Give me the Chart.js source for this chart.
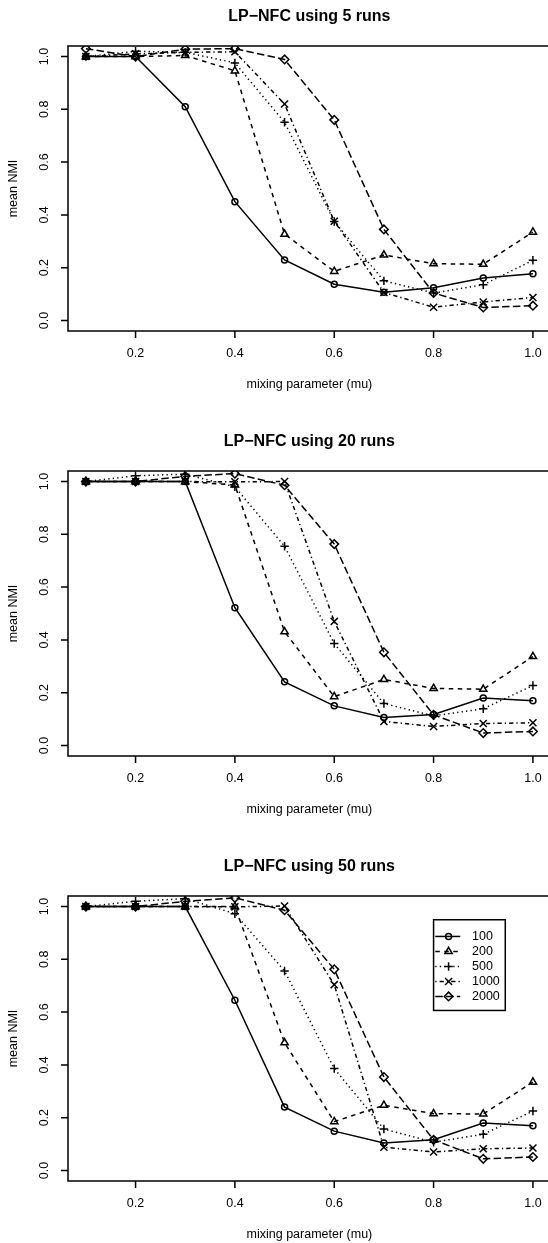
<!DOCTYPE html>
<html lang="en">
<head>
<meta charset="UTF-8" />
<title>LP-NFC mean NMI</title>
<script src="https://cdn.jsdelivr.net/npm/chart.js"></script>
<style>
  html, body {
    margin: 0;
    padding: 0;
    background: #fff;
    overflow: hidden;
  }
  body {
    width: 548px;
    height: 1243px;
    position: relative;
  }
  .panel {
    position: absolute;
    left: 0;
  }
</style>
</head>
<body>
<canvas id="chart5" class="panel" width="619" height="425" style="top:-14px"></canvas>
<canvas id="chart20" class="panel" width="619" height="425" style="top:411px"></canvas>
<canvas id="chart50" class="panel" width="619" height="425" style="top:836px"></canvas>

<script>
  // mixing parameter values and network sizes
  const mu = [0.1, 0.2, 0.3, 0.4, 0.5, 0.6, 0.7, 0.8, 0.9, 1.0];
  const sizes = ['100', '200', '500', '1000', '2000'];
  const xTicks = [0.2, 0.4, 0.6, 0.8, 1.0];
  const yTicks = [0.0, 0.2, 0.4, 0.6, 0.8, 1.0];
  const panelTitles = ['LP\u2212NFC using 5 runs', 'LP\u2212NFC using 20 runs', 'LP\u2212NFC using 50 runs'];

  // 5 runs
  const runs5_100  = [1.00, 1.00, 0.81, 0.45, 0.229, 0.137, 0.107, 0.124, 0.161, 0.177];
  const runs5_200  = [1.00, 1.00, 1.004, 0.946, 0.327, 0.186, 0.248, 0.215, 0.213, 0.335];
  const runs5_500  = [1.00, 1.02, 1.016, 0.976, 0.751, 0.375, 0.150, 0.104, 0.135, 0.228];
  const runs5_1000 = [1.00, 1.01, 1.016, 1.018, 0.820, 0.376, 0.106, 0.050, 0.070, 0.087];
  const runs5_2000 = [1.03, 1.00, 1.028, 1.030, 0.989, 0.760, 0.345, 0.104, 0.049, 0.056];

  // 20 runs
  const runs20_100  = [1.00, 1.00, 1.00, 0.522, 0.241, 0.150, 0.106, 0.117, 0.180, 0.169];
  const runs20_200  = [1.00, 1.00, 1.00, 0.987, 0.431, 0.185, 0.250, 0.216, 0.213, 0.337];
  const runs20_500  = [1.00, 1.022, 1.028, 0.980, 0.755, 0.386, 0.159, 0.112, 0.139, 0.227];
  const runs20_1000 = [1.00, 1.00, 1.00, 0.999, 1.000, 0.470, 0.091, 0.072, 0.083, 0.086];
  const runs20_2000 = [1.00, 1.00, 1.020, 1.030, 0.986, 0.763, 0.353, 0.116, 0.047, 0.053];

  // 50 runs
  const runs50_100  = [1.00, 1.00, 1.00, 0.645, 0.240, 0.149, 0.104, 0.116, 0.180, 0.169];
  const runs50_200  = [1.00, 1.00, 1.00, 1.000, 0.484, 0.185, 0.247, 0.215, 0.214, 0.335];
  const runs50_500  = [1.00, 1.020, 1.030, 0.973, 0.756, 0.386, 0.157, 0.107, 0.137, 0.225];
  const runs50_1000 = [1.00, 1.00, 1.00, 0.999, 1.002, 0.704, 0.088, 0.070, 0.082, 0.085];
  const runs50_2000 = [1.00, 1.00, 1.020, 1.033, 0.986, 0.762, 0.354, 0.116, 0.044, 0.051];

  const fontFamily = "'Liberation Sans', Arial, Helvetica, sans-serif";

  // R style: pch 1..5 with lty 1..5
  const seriesStyle = [
    { pointStyle: 'circle', radius: 3, dash: [] },
    { pointStyle: 'triangle', radius: 4.2, dash: [4.5, 4.5] },
    { pointStyle: 'cross', radius: 4.2, dash: [1.3, 3.2] },
    { pointStyle: 'crossRot', radius: 5, dash: [1.3, 3, 4.3, 3] },
    { pointStyle: 'rectRot', radius: 4.3, dash: [7.5, 3.3] },
  ];

  // box, ticks, axis labels and legend drawn like base R graphics
  const rAxesPlugin = {
    id: 'rAxes',
    afterDraw(chart, args, opts) {
      const { ctx, chartArea: a } = chart;
      const xs = chart.scales.x;
      const ys = chart.scales.y;
      ctx.save();
      ctx.strokeStyle = '#000';
      ctx.fillStyle = '#000';
      ctx.lineWidth = 1.5;
      ctx.setLineDash([]);
      ctx.strokeRect(a.left, a.top, a.right - a.left, a.bottom - a.top);

      ctx.font = '12.5px ' + fontFamily;
      ctx.textAlign = 'center';
      ctx.textBaseline = 'middle';

      ctx.beginPath();
      xTicks.forEach((v) => {
        const px = xs.getPixelForValue(v);
        ctx.moveTo(px, a.bottom);
        ctx.lineTo(px, a.bottom + 7);
      });
      yTicks.forEach((v) => {
        const py = ys.getPixelForValue(v);
        ctx.moveTo(a.left, py);
        ctx.lineTo(a.left - 7, py);
      });
      ctx.stroke();

      xTicks.forEach((v) => ctx.fillText(v.toFixed(1), xs.getPixelForValue(v), a.bottom + 23));
      ctx.fillText('mixing parameter (mu)', (a.left + a.right) / 2, a.bottom + 54);

      yTicks.forEach((v) => {
        ctx.save();
        ctx.translate(a.left - 23, ys.getPixelForValue(v));
        ctx.rotate(-Math.PI / 2);
        ctx.fillText(v.toFixed(1), 0, 0);
        ctx.restore();
      });
      ctx.save();
      ctx.translate(a.left - 54, (a.top + a.bottom) / 2);
      ctx.rotate(-Math.PI / 2);
      ctx.fillText('mean NMI', 0, 0);
      ctx.restore();

      if (opts.legendAt) {
        const lx = xs.getPixelForValue(opts.legendAt[0]);
        const ly = ys.getPixelForValue(opts.legendAt[1]);
        ctx.strokeRect(lx, ly, 71.7, 90.7);
        chart.data.datasets.forEach((ds, i) => {
          const rowY = ly + 16.7 + i * 15;
          ctx.lineWidth = ds.borderWidth;
          ctx.setLineDash(ds.borderDash);
          ctx.beginPath();
          ctx.moveTo(lx + 1.7, rowY);
          ctx.lineTo(lx + 26.7, rowY);
          ctx.stroke();
          ctx.setLineDash([]);
          ctx.lineWidth = ds.pointBorderWidth;
          ctx.fillStyle = 'rgba(0,0,0,0)';
          Chart.helpers.drawPoint(ctx, {
            pointStyle: ds.pointStyle,
            radius: ds.pointRadius,
            borderWidth: ds.pointBorderWidth,
            rotation: 0,
          }, lx + 15, rowY);
          ctx.fillStyle = '#000';
          ctx.textAlign = 'left';
          ctx.fillText(ds.label, lx + 38.4, rowY);
        });
      }
      ctx.restore();
    },
  };

  function buildDatasets(seriesList) {
    return seriesList.map((vals, i) => ({
      label: sizes[i],
      data: mu.map((m, j) => ({ x: m, y: vals[j] })),
      borderColor: '#000',
      borderWidth: 1.5,
      borderDash: seriesStyle[i].dash,
      pointStyle: seriesStyle[i].pointStyle,
      pointRadius: seriesStyle[i].radius,
      pointBorderWidth: 1.5,
      pointBorderColor: '#000',
      pointBackgroundColor: 'rgba(0,0,0,0)',
      tension: 0,
      fill: false,
    }));
  }

  function makeChart(id, title, seriesList, legendAt) {
    new Chart(document.getElementById(id), {
      type: 'line',
      data: { datasets: buildDatasets(seriesList) },
      options: {
        responsive: false,
        animation: false,
        events: [],
        layout: { padding: { left: 68, right: 68.2, top: 20.7, bottom: 80 } },
        scales: {
          x: { type: 'linear', display: false, min: 0.064, max: 1.036 },
          y: { type: 'linear', display: false, min: -0.04, max: 1.04 },
        },
        plugins: {
          legend: { display: false },
          tooltip: { enabled: false },
          title: {
            display: true,
            text: title,
            color: '#000',
            font: { family: fontFamily, size: 16, weight: 'bold' },
            padding: { top: 0, bottom: 20.1 },
          },
          rAxes: { legendAt: legendAt },
        },
      },
      plugins: [rAxesPlugin],
    });
  }

  makeChart('chart5', panelTitles[0], [runs5_100, runs5_200, runs5_500, runs5_1000, runs5_2000], null);
  makeChart('chart20', panelTitles[1], [runs20_100, runs20_200, runs20_500, runs20_1000, runs20_2000], null);
  makeChart('chart50', panelTitles[2], [runs50_100, runs50_200, runs50_500, runs50_1000, runs50_2000], [0.8, 0.95]);
</script>
</body>
</html>
